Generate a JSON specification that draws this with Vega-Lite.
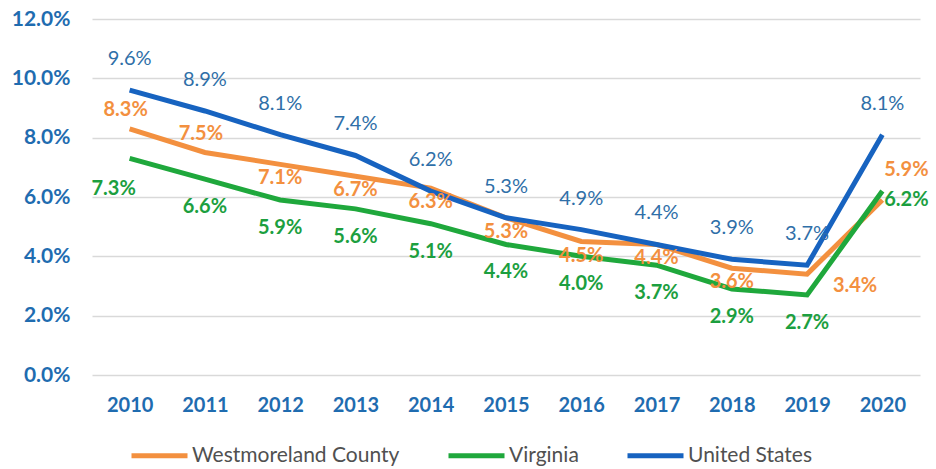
{
  "$schema": "https://vega.github.io/schema/vega-lite/v6.json",
  "width": 828,
  "height": 356,
  "autosize": "none",
  "padding": {"left": 92, "top": 19, "right": 16, "bottom": 94},
  "background": "white",
  "config": {"view": {"stroke": null}},
  "data": {
    "values": [
      {"year": "2010", "series": "Westmoreland County", "rate": 0.083},
      {"year": "2011", "series": "Westmoreland County", "rate": 0.075},
      {"year": "2012", "series": "Westmoreland County", "rate": 0.071},
      {"year": "2013", "series": "Westmoreland County", "rate": 0.067},
      {"year": "2014", "series": "Westmoreland County", "rate": 0.063},
      {"year": "2015", "series": "Westmoreland County", "rate": 0.053},
      {"year": "2016", "series": "Westmoreland County", "rate": 0.045},
      {"year": "2017", "series": "Westmoreland County", "rate": 0.044},
      {"year": "2018", "series": "Westmoreland County", "rate": 0.036},
      {"year": "2019", "series": "Westmoreland County", "rate": 0.034},
      {"year": "2020", "series": "Westmoreland County", "rate": 0.059},
      {"year": "2010", "series": "Virginia", "rate": 0.073},
      {"year": "2011", "series": "Virginia", "rate": 0.066},
      {"year": "2012", "series": "Virginia", "rate": 0.059},
      {"year": "2013", "series": "Virginia", "rate": 0.056},
      {"year": "2014", "series": "Virginia", "rate": 0.051},
      {"year": "2015", "series": "Virginia", "rate": 0.044},
      {"year": "2016", "series": "Virginia", "rate": 0.040},
      {"year": "2017", "series": "Virginia", "rate": 0.037},
      {"year": "2018", "series": "Virginia", "rate": 0.029},
      {"year": "2019", "series": "Virginia", "rate": 0.027},
      {"year": "2020", "series": "Virginia", "rate": 0.062},
      {"year": "2010", "series": "United States", "rate": 0.096},
      {"year": "2011", "series": "United States", "rate": 0.089},
      {"year": "2012", "series": "United States", "rate": 0.081},
      {"year": "2013", "series": "United States", "rate": 0.074},
      {"year": "2014", "series": "United States", "rate": 0.062},
      {"year": "2015", "series": "United States", "rate": 0.053},
      {"year": "2016", "series": "United States", "rate": 0.049},
      {"year": "2017", "series": "United States", "rate": 0.044},
      {"year": "2018", "series": "United States", "rate": 0.039},
      {"year": "2019", "series": "United States", "rate": 0.037},
      {"year": "2020", "series": "United States", "rate": 0.081}
    ]
  },
  "encoding": {
    "x": {
      "field": "year", "type": "ordinal",
      "scale": {"type": "point", "padding": 0.5},
      "axis": {
        "title": null, "labelAngle": 0, "domain": false, "ticks": false,
        "labelFont": "Lato", "labelFontWeight": "bold",
        "labelFontSize": 20, "labelColor": "#1f6cb0", "labelPadding": 20
      }
    },
    "y": {
      "field": "rate", "type": "quantitative",
      "scale": {"domain": [0, 0.12]},
      "axis": {
        "title": null, "values": [0, 0.02, 0.04, 0.06, 0.08, 0.1, 0.12],
        "format": ".1%", "domain": false, "ticks": false,
        "gridColor": "#d9d9d9", "gridWidth": 1.5,
        "labelFont": "Lato", "labelFontWeight": "bold", "labelFontSize": 21,
        "labelColor": "#1f6cb0", "labelPadding": 22
      }
    }
  },
  "layer": [
    {
      "mark": {"type": "line", "strokeWidth": 5},
      "encoding": {
        "color": {
          "field": "series", "type": "nominal",
          "scale": {
            "domain": ["Westmoreland County", "Virginia", "United States"],
            "range": ["#f3903f", "#1fa83c", "#1763c0"]
          },
          "legend": {
            "title": null, "orient": "none", "direction": "horizontal",
            "legendX": 37, "legendY": 406,
            "symbolType": "stroke", "symbolSize": 3136, "symbolStrokeWidth": 5,
            "labelFont": "Lato", "labelFontSize": 21,
            "labelColor": "#505050", "labelOffset": 2, "columnPadding": 38, "labelLimit": 300
          }
        }
      }
    },
    {
      "transform": [{"filter": "datum.series == 'United States'"}],
      "mark": {"type": "text", "font": "Lato", "fontSize": 20, "dy": -31, "color": "#2f6fa8"},
      "encoding": {"text": {"field": "rate", "format": ".1%"}}
    },
    {
      "transform": [{"filter": "datum.series == 'Westmoreland County' && (datum.year == '2010' || datum.year == '2011')"}],
      "mark": {"type": "text", "font": "Lato", "fontSize": 20, "fontWeight": "bold", "dy": -19, "dx": -4, "color": "#f3903f"},
      "encoding": {"text": {"field": "rate", "format": ".1%"}}
    },
    {
      "transform": [{"filter": "datum.series == 'Westmoreland County' && datum.year != '2010' && datum.year != '2011' && datum.year != '2019' && datum.year != '2020'"}],
      "mark": {"type": "text", "font": "Lato", "fontSize": 20, "fontWeight": "bold", "dy": 14, "color": "#f3903f"},
      "encoding": {"text": {"field": "rate", "format": ".1%"}}
    },
    {
      "transform": [{"filter": "datum.series == 'Westmoreland County' && datum.year == '2019'"}],
      "mark": {"type": "text", "font": "Lato", "fontSize": 20, "fontWeight": "bold", "dy": 12, "dx": 48, "color": "#f3903f"},
      "encoding": {"text": {"field": "rate", "format": ".1%"}}
    },
    {
      "transform": [{"filter": "datum.series == 'Westmoreland County' && datum.year == '2020'"}],
      "mark": {"type": "text", "font": "Lato", "fontSize": 20, "fontWeight": "bold", "dy": -30, "dx": 24, "color": "#f3903f"},
      "encoding": {"text": {"field": "rate", "format": ".1%"}}
    },
    {
      "transform": [{"filter": "datum.series == 'Virginia' && datum.year == '2010'"}],
      "mark": {"type": "text", "font": "Lato", "fontSize": 20, "fontWeight": "bold", "dy": 31, "dx": -16, "color": "#1c9f3f"},
      "encoding": {"text": {"field": "rate", "format": ".1%"}}
    },
    {
      "transform": [{"filter": "datum.series == 'Virginia' && datum.year != '2010' && datum.year != '2020'"}],
      "mark": {"type": "text", "font": "Lato", "fontSize": 20, "fontWeight": "bold", "dy": 28, "color": "#1c9f3f"},
      "encoding": {"text": {"field": "rate", "format": ".1%"}}
    },
    {
      "transform": [{"filter": "datum.series == 'Virginia' && datum.year == '2020'"}],
      "mark": {"type": "text", "font": "Lato", "fontSize": 20, "fontWeight": "bold", "dy": 9, "dx": 24, "color": "#1c9f3f"},
      "encoding": {"text": {"field": "rate", "format": ".1%"}}
    }
  ]
}
